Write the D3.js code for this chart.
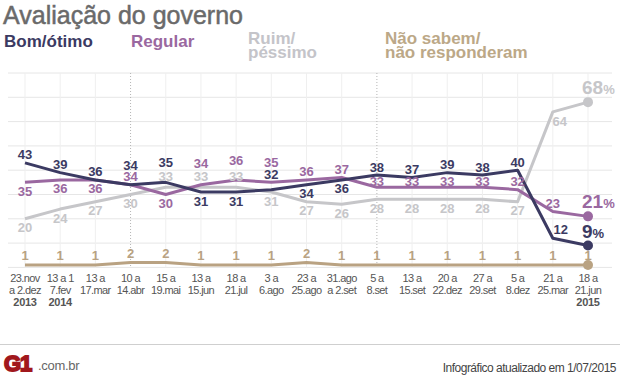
<!DOCTYPE html>
<html><head><meta charset="utf-8">
<script src="https://cdn.jsdelivr.net/npm/d3@7/dist/d3.min.js"></script>
<style>
html,body{margin:0;padding:0;background:#fff;}
svg{display:block;font-family:Arial,"Liberation Sans",sans-serif;}
</style></head>
<body>
<svg id="chart" width="620" height="381"></svg>
<script>
const periodLine1 = ["23.nov","13 a 1","13 a","10 a","15 a","13 a","18 a","3 a","23 a","31.ago","5 a","13 a","20 a","27 a","5 a","21 a","18 a"];
const periodLine2 = ["a 2.dez","7.fev","17.mar","14.abr","19.mai","15.jun","21.jul","6.ago","25.ago","a 2.set","8.set","15.set","22.dez","29.set","8.dez","25.mar","21.jun"];
const periodYear  = ["2013","2014","","","","","","","","","","","","","","","2015"];

const bomOtimo   = [43,39,36,34,35,31,31,32,34,36,38,37,39,38,40,12,9];
const regular    = [35,36,36,34,30,34,36,35,36,37,33,33,33,33,32,23,21];
const ruimPessimo= [20,24,27,30,33,33,33,31,27,26,28,28,28,28,27,64,68];
const naoSabem   = [1,1,1,2,2,1,1,1,2,1,1,1,1,1,1,1,1];

// label placement codes: a=above, A=high above, m=mid above, n=near above, c=close, b=below,
// R=above-right, B=below-right, E=end (big with %)
const bomPlace = ["a","a","a","A","A","b","b","m","b","b","a","a","a","a","a","R","E"];
const regPlace = ["b","b","b","a","b","H","A","A","a","a","c","c","c","c","a","a","E"];
const ruimPlace= ["b","b","b","b","n","n","n","b","b","b","b","b","b","b","b","B","E"];
const nsPlace  = ["s","s","s","s","s","s","s","s","s","s","s","s","s","s","s","s","s"];
const dottedAt = [3,10];
const yTicks = [0,10,20,30,40,50,60,70,80];

const series = [
  {name:"bom", values:bomOtimo, place:bomPlace, color:"#3b3a62"},
  {name:"regular", values:regular, place:regPlace, color:"#9a68a0"},
  {name:"ruim", values:ruimPessimo, place:ruimPlace, color:"#c6c6c9"},
  {name:"ns", values:naoSabem, place:nsPlace, color:"#b9a282"}
];
const offsets = {a:-3.5, A:-15, H:-16.5, m:-11, n:-6.5, c:-1, b:13.5, s:-5, E:-8, R:-4, B:14};
const dxs = {R:8, B:7};

const svg = d3.select("#chart");
const idx = d3.range(bomOtimo.length);
const x = d3.scalePoint().domain(idx).range([25, 588]);
const y = d3.scaleLinear().domain([0,80]).range([267.4, 73]);

// title & legend
svg.append("text").attr("x",3).attr("y",24).attr("font-size",25).attr("fill","#6a6a6a")
  .attr("stroke","#6a6a6a").attr("stroke-width",0.5).text("Avaliação do governo");
const leg = svg.append("g").attr("font-weight","bold").attr("font-size",17);
leg.append("text").attr("x",4).attr("y",47).attr("fill","#3b3a62").text("Bom/ótimo");
leg.append("text").attr("x",131).attr("y",47).attr("fill","#9a68a0").text("Regular");
const r = leg.append("text").attr("fill","#c4c4c9");
r.append("tspan").attr("x",248).attr("y",44).text("Ruim/");
r.append("tspan").attr("x",248).attr("y",58).text("péssimo");
const n = leg.append("text").attr("fill","#bca887");
n.append("tspan").attr("x",385).attr("y",44).text("Não sabem/");
n.append("tspan").attr("x",385).attr("y",58).text("não responderam");

// grid
const grid = svg.append("g");
grid.selectAll("line.h").data(yTicks).join("line").attr("class","h")
  .attr("x1",8).attr("x2",612).attr("y1",d=>y(d)).attr("y2",d=>y(d))
  .attr("stroke","#e6e6e6").attr("stroke-width",1);
grid.selectAll("line.v").data(idx.filter(i=>!dottedAt.includes(i))).join("line").attr("class","v")
  .attr("x1",d=>x(d)).attr("x2",d=>x(d)).attr("y1",y(80)).attr("y2",y(0))
  .attr("stroke","#efefef").attr("stroke-width",1);
grid.selectAll("line.d").data(dottedAt).join("line").attr("class","d")
  .attr("x1",d=>x(d)).attr("x2",d=>x(d)).attr("y1",y(80)).attr("y2",y(0))
  .attr("stroke","#b5b5b5").attr("stroke-width",1).attr("stroke-dasharray","1,2");

// lines
const line = d3.line().x((d,i)=>x(i)).y(d=>y(d));
const order = ["ns","ruim","regular","bom"];
order.forEach(nm=>{
  const s = series.find(q=>q.name===nm);
  svg.append("path").datum(s.values).attr("d",line).attr("fill","none")
    .attr("stroke",s.color).attr("stroke-width",3).attr("stroke-linejoin","round");
  svg.append("circle").attr("cx",x(idx[idx.length-1])).attr("cy",y(s.values[s.values.length-1]))
    .attr("r",5).attr("fill",s.color);
});

// labels
series.forEach(s=>{
  const g = svg.append("g").attr("font-weight","bold").attr("fill",s.color);
  s.values.forEach((v,i)=>{
    const p = s.place[i];
    const yy = y(v) + offsets[p];
    if(p==="E"){
      const t = g.append("text").attr("x",x(i)-6).attr("y",yy);
      t.append("tspan").attr("font-size",19).text(v);
      t.append("tspan").attr("font-size",13).text("%");
    } else {
      g.append("text").attr("x",x(i)+(dxs[p]||0)).attr("y",yy).attr("text-anchor","middle")
        .attr("font-size",13).text(v);
    }
  });
});

// x labels
const xl = svg.append("g").attr("font-size",11).attr("fill","#555").attr("letter-spacing","-0.6")
  .attr("text-anchor","middle");
idx.forEach(i=>{
  xl.append("text").attr("x",x(i)).attr("y",282).text(periodLine1[i]);
  xl.append("text").attr("x",x(i)).attr("y",294).text(periodLine2[i]);
  if(periodYear[i]) xl.append("text").attr("x",x(i)).attr("y",306).attr("font-weight","bold")
    .attr("letter-spacing","-0.3").text(periodYear[i]);
});

// footer
svg.append("line").attr("x1",0).attr("x2",620).attr("y1",344.5).attr("y2",344.5)
  .attr("stroke","#cfcfcf");
svg.append("text").attr("x",4).attr("y",371).attr("font-size",22).attr("font-weight","900")
  .attr("fill","#a1181d").attr("stroke","#a1181d").attr("stroke-width",1.8)
  .attr("letter-spacing","-1").text("G1");
svg.append("text").attr("x",38).attr("y",370).attr("font-size",13).attr("fill","#666")
  .attr("letter-spacing","-0.3").text(".com.br");
svg.append("text").attr("x",616).attr("y",372).attr("font-size",12).attr("fill","#444")
  .attr("letter-spacing","-0.5").attr("text-anchor","end").text("Infográfico atualizado em 1/07/2015");
</script>
</body></html>
